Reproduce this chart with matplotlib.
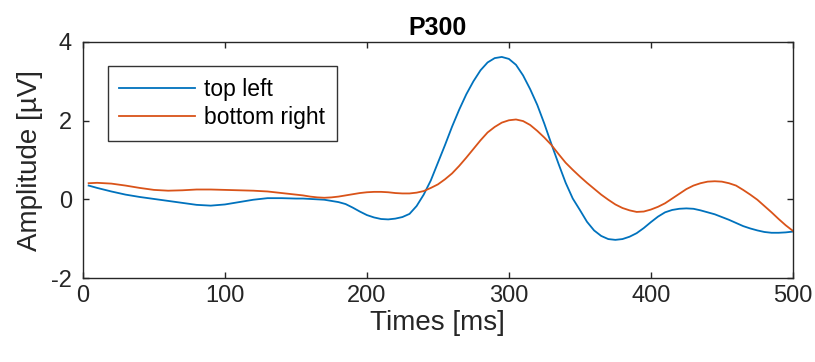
import matplotlib
matplotlib.use("Agg")
import matplotlib.pyplot as plt

plt.rcParams['font.family'] = ['Liberation Sans', 'DejaVu Sans']
plt.rcParams['axes.unicode_minus'] = False

# ERP averages (ms, µV)
times = [4, 10, 20, 30, 40, 50, 60, 70, 80, 90, 100, 110, 120, 130, 140] \
    + list(range(150, 505, 5))
top_left = [0.35, 0.29, 0.20, 0.12, 0.06, 0.01, -0.04, -0.09, -0.14, -0.16,
            -0.13, -0.07, -0.01, 0.03, 0.03,
            0.02, 0.02, 0.01, 0.00, -0.01, -0.04, -0.07, -0.12, -0.21, -0.31,
            -0.40, -0.46, -0.50, -0.51, -0.49, -0.45, -0.37, -0.17, 0.12, 0.48,
            0.93, 1.38, 1.85, 2.28, 2.67, 3.00, 3.28, 3.48, 3.59, 3.62,
            3.57, 3.42, 3.15, 2.80, 2.40, 1.92, 1.40, 0.90, 0.42, 0.02,
            -0.27, -0.57, -0.79, -0.93, -1.01, -1.03, -1.01, -0.95, -0.86, -0.73,
            -0.58, -0.44, -0.33, -0.27, -0.24, -0.23, -0.24, -0.28, -0.33, -0.38,
            -0.45, -0.52, -0.60, -0.68, -0.74, -0.79, -0.83, -0.85, -0.85, -0.84,
            -0.82]
bottom_right = [0.41, 0.42, 0.40, 0.35, 0.29, 0.24, 0.22, 0.23, 0.25, 0.25,
                0.24, 0.23, 0.22, 0.20, 0.16,
                0.12, 0.10, 0.07, 0.05, 0.04, 0.05, 0.07, 0.10, 0.13, 0.16,
                0.18, 0.19, 0.19, 0.18, 0.16, 0.15, 0.15, 0.17, 0.21, 0.29,
                0.38, 0.51, 0.66, 0.85, 1.06, 1.28, 1.50, 1.70, 1.84, 1.95,
                2.01, 2.03, 1.99, 1.89, 1.74, 1.57, 1.38, 1.15, 0.93, 0.75,
                0.58, 0.42, 0.27, 0.12, -0.01, -0.13, -0.22, -0.28, -0.32, -0.31,
                -0.26, -0.19, -0.10, 0.02, 0.14, 0.26, 0.35, 0.41, 0.45, 0.46,
                0.45, 0.41, 0.35, 0.24, 0.12, -0.01, -0.17, -0.33, -0.50, -0.66,
                -0.80]

labels = ['top left', 'bottom right']
colors = ['#0072BD', '#D95319']
xticks = [0, 100, 200, 300, 400, 500]
yticks = [-2, 0, 2, 4]

fig = plt.figure(figsize=(8.15, 3.62), dpi=100)
ax = fig.add_axes([0.1018, 0.232, 0.871, 0.652])

ax.plot(times, top_left, color=colors[0], lw=1.3, label=labels[0])
ax.plot(times, bottom_right, color=colors[1], lw=1.3, label=labels[1])

ax.set_xlim(0, 500)
ax.set_ylim(-2, 4)
ax.set_xticks(xticks)
ax.set_yticks(yticks)

dark = '#262626'
for s in ax.spines.values():
    s.set_color(dark)
    s.set_linewidth(1.0)
ax.tick_params(direction='in', length=4, width=1.0, color=dark,
               labelcolor=dark, labelsize=17, top=True, right=True)
ax.tick_params(axis='x', pad=5)
ax.tick_params(axis='y', pad=8)

ax.set_xlabel('Times [ms]', fontsize=20, color=dark, labelpad=2)
ax.set_ylabel('Amplitude [µV]', fontsize=20, color=dark, labelpad=6)
ax.set_title('P300', fontsize=18, fontweight='bold', pad=5)

leg = ax.legend(loc='upper left', bbox_to_anchor=(0.035, 0.898),
                borderaxespad=0, fontsize=16.5, frameon=True, fancybox=False,
                handlelength=3.3, handletextpad=0.4, labelspacing=0.25,
                borderpad=0.5)
leg.get_frame().set_edgecolor('black')
leg.get_frame().set_linewidth(1.0)

fig.savefig('out.png', dpi=100)
